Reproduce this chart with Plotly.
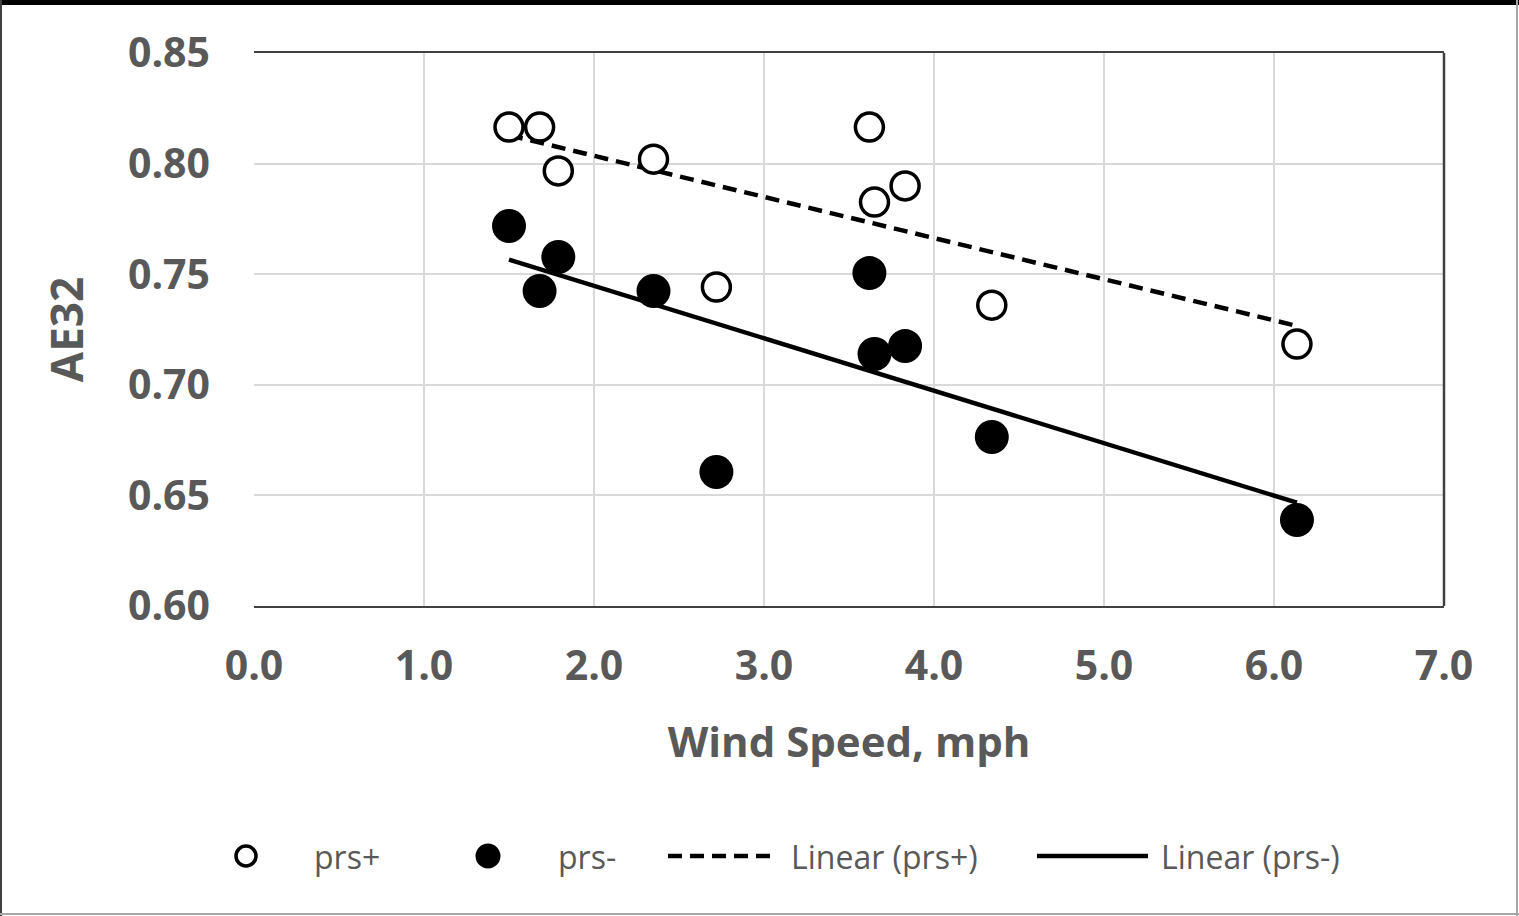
import numpy as np
import plotly.graph_objects as go

# ---- data ----
wind_speed = [1.50, 1.68, 1.79, 2.35, 2.72, 3.62, 3.65, 3.83, 4.34, 6.135]
ae32_prs_plus = [0.8165, 0.8165, 0.7967, 0.8020, 0.7442, 0.8165, 0.7826, 0.7899, 0.7360, 0.7184]
ae32_prs_minus = [0.7718, 0.7424, 0.7578, 0.7424, 0.6606, 0.7505, 0.7139, 0.7175, 0.6764, 0.6389]
x_ticks = [0, 1, 2, 3, 4, 5, 6, 7]
y_ticks = [0.60, 0.65, 0.70, 0.75, 0.80, 0.85]
legend_labels = ["prs+", "prs-", "Linear (prs+)", "Linear (prs-)"]

# linear trendlines (least squares, drawn over the data range)
xs = np.array(wind_speed)
fit_plus = np.polyfit(xs, ae32_prs_plus, 1)
fit_minus = np.polyfit(xs, ae32_prs_minus, 1)
x_line = np.array([xs.min(), xs.max()])

W, H = 1519, 916
L, R, T, B = 254, 75, 53, 310
PW, PH = W - L - R, H - T - B

def px_x(p):
    return (p - L) / PW

def px_y(p):
    return (H - B - p) / PH

GRAY_TXT = "#595959"
FRAME = "#404040"

fig = go.Figure()
fig.add_trace(go.Scatter(
    x=x_line, y=np.polyval(fit_plus, x_line), mode="lines",
    line=dict(color="black", width=4.5, dash="14px,8px"),
    name=legend_labels[2], showlegend=False))
fig.add_trace(go.Scatter(
    x=x_line, y=np.polyval(fit_minus, x_line), mode="lines",
    line=dict(color="black", width=4.5),
    name=legend_labels[3], showlegend=False))
fig.add_trace(go.Scatter(
    x=wind_speed, y=ae32_prs_plus, mode="markers", name=legend_labels[0],
    marker=dict(symbol="circle", size=28, color="white",
                line=dict(color="black", width=3.5)),
    showlegend=False))
fig.add_trace(go.Scatter(
    x=wind_speed, y=ae32_prs_minus, mode="markers", name=legend_labels[1],
    marker=dict(symbol="circle", size=34, color="black",
                line=dict(color="black", width=0)),
    showlegend=False))

tick_font = dict(family="Open Sans", size=41, color=GRAY_TXT, weight="bold")
title_font = dict(family="Open Sans", size=42, color=GRAY_TXT, weight="bold")

fig.update_layout(
    width=W, height=H,
    margin=dict(l=L, r=R, t=T, b=B, pad=0),
    paper_bgcolor="white", plot_bgcolor="white",
    showlegend=False,
    xaxis=dict(
        range=[0, 7], tickvals=x_ticks, tickformat=".1f",
        showgrid=True, gridcolor="#d9d9d9", gridwidth=2,
        showline=True, mirror=True, linecolor=FRAME, linewidth=2,
        zeroline=False, ticks="", tickfont=tick_font,
        ticklabelstandoff=23,
        title=dict(text="Wind Speed, mph", font=title_font, standoff=36),
    ),
    yaxis=dict(
        range=[0.60, 0.85], tickvals=y_ticks, tickformat=".2f",
        showgrid=True, gridcolor="#d9d9d9", gridwidth=2,
        showline=False, zeroline=False, ticks="", tickfont=tick_font,
        ticklabelstandoff=43,
        title=dict(text="AE32", font=dict(family="Open Sans", size=44,
                                         color=GRAY_TXT, weight="bold"),
                   standoff=30),
    ),
)

shapes = []
# right edge of plot frame
shapes.append(dict(type="line", xref="x domain", yref="y domain",
                   x0=1, x1=1, y0=0, y1=1, line=dict(color=FRAME, width=2.5)))
# outer chart border
shapes.append(dict(type="line", xref="paper", yref="paper",
                   x0=px_x(0), x1=px_x(W), y0=px_y(2.5), y1=px_y(2.5),
                   line=dict(color="black", width=5)))
shapes.append(dict(type="line", xref="paper", yref="paper",
                   x0=px_x(1), x1=px_x(1), y0=px_y(0), y1=px_y(H),
                   line=dict(color="#404040", width=2)))
shapes.append(dict(type="line", xref="paper", yref="paper",
                   x0=px_x(W - 2), x1=px_x(W - 2), y0=px_y(0), y1=px_y(H),
                   line=dict(color="#a6a6a6", width=2)))
shapes.append(dict(type="line", xref="paper", yref="paper",
                   x0=px_x(0), x1=px_x(W), y0=px_y(H - 2), y1=px_y(H - 2),
                   line=dict(color="#a6a6a6", width=2)))

# legend (drawn manually to match the long line samples)
ly = 856
r1 = 10
shapes.append(dict(type="circle", xref="paper", yref="paper",
                   x0=px_x(246 - r1), x1=px_x(246 + r1),
                   y0=px_y(ly + r1), y1=px_y(ly - r1),
                   line=dict(color="black", width=3.5), fillcolor="white"))
r2 = 12.5
shapes.append(dict(type="circle", xref="paper", yref="paper",
                   x0=px_x(488 - r2), x1=px_x(488 + r2),
                   y0=px_y(ly + r2), y1=px_y(ly - r2),
                   line=dict(color="black", width=0), fillcolor="black"))
shapes.append(dict(type="line", xref="paper", yref="paper",
                   x0=px_x(668), x1=px_x(778), y0=px_y(ly), y1=px_y(ly),
                   line=dict(color="black", width=4.5, dash="14px,8px")))
shapes.append(dict(type="line", xref="paper", yref="paper",
                   x0=px_x(1037), x1=px_x(1148), y0=px_y(ly), y1=px_y(ly),
                   line=dict(color="black", width=4.5)))
fig.update_layout(shapes=shapes)

leg_x = [312, 556, 789, 1159]
for lbl, xp in zip(legend_labels, leg_x):
    fig.add_annotation(text=lbl, xref="paper", yref="paper",
                       x=px_x(xp), y=px_y(ly), xanchor="left", yanchor="middle",
                       showarrow=False,
                       font=dict(family="Open Sans", size=32, color=GRAY_TXT))

fig.write_html("out.html")
